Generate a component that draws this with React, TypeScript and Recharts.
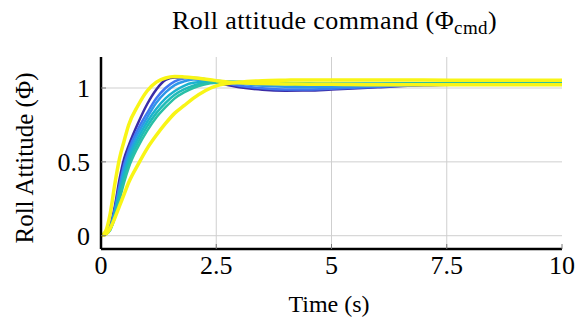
import { LineChart, Line, XAxis, YAxis, CartesianGrid } from 'recharts';

// time samples (s)
const time = [0, 0.1, 0.2, 0.3, 0.4, 0.5, 0.6, 0.8, 1.0, 1.2, 1.4, 1.6, 1.8, 2.0, 2.5, 3, 3.5, 4, 4.5, 5, 6, 7, 8, 9, 10];

// roll attitude responses
const fastYellow = [0, 0.03, 0.15, 0.35, 0.52, 0.64, 0.75, 0.88, 0.98, 1.04, 1.068, 1.078, 1.075, 1.07, 1.05, 1.035, 1.03, 1.028, 1.026, 1.025, 1.022, 1.022, 1.022, 1.022, 1.022];
const indigo = [0, 0.01, 0.07, 0.2, 0.38, 0.52, 0.61, 0.76, 0.89, 0.99, 1.055, 1.072, 1.072, 1.065, 1.035, 1.005, 0.988, 0.982, 0.983, 0.99, 1.005, 1.018, 1.025, 1.03, 1.032];
const blue = [0, 0.01, 0.06, 0.18, 0.34, 0.48, 0.58, 0.72, 0.83, 0.93, 1.0, 1.045, 1.065, 1.07, 1.045, 1.015, 0.998, 0.99, 0.99, 0.995, 1.008, 1.02, 1.026, 1.03, 1.032];
const skyBlue = [0, 0.01, 0.05, 0.16, 0.31, 0.45, 0.55, 0.69, 0.8, 0.9, 0.97, 1.02, 1.045, 1.058, 1.05, 1.03, 1.015, 1.008, 1.005, 1.007, 1.015, 1.024, 1.03, 1.033, 1.035];
const cyan = [0, 0.01, 0.05, 0.15, 0.29, 0.42, 0.52, 0.66, 0.77, 0.86, 0.93, 0.98, 1.015, 1.035, 1.048, 1.04, 1.03, 1.025, 1.022, 1.022, 1.025, 1.03, 1.033, 1.035, 1.036];
const teal = [0, 0.01, 0.04, 0.13, 0.26, 0.39, 0.49, 0.63, 0.74, 0.83, 0.9, 0.955, 0.99, 1.015, 1.04, 1.04, 1.035, 1.03, 1.028, 1.027, 1.028, 1.031, 1.034, 1.036, 1.037];
const green = [0, 0.01, 0.04, 0.12, 0.24, 0.36, 0.46, 0.6, 0.71, 0.8, 0.87, 0.93, 0.97, 1.0, 1.035, 1.04, 1.038, 1.034, 1.032, 1.03, 1.03, 1.032, 1.034, 1.036, 1.037];
const slowYellow = [0, 0.01, 0.05, 0.12, 0.2, 0.28, 0.36, 0.48, 0.59, 0.68, 0.76, 0.83, 0.88, 0.93, 1.015, 1.04, 1.05, 1.053, 1.055, 1.055, 1.055, 1.054, 1.053, 1.053, 1.052];

const xTicks = [0, 2.5, 5, 7.5, 10];
const yTicks = [0, 0.5, 1];

const data = time.map((t, i) => ({
  t,
  fastYellow: fastYellow[i],
  indigo: indigo[i],
  blue: blue[i],
  skyBlue: skyBlue[i],
  cyan: cyan[i],
  teal: teal[i],
  green: green[i],
  slowYellow: slowYellow[i],
}));

const series = [
  { key: 'indigo', color: '#3b2ca6', width: 2.5 },
  { key: 'blue', color: '#3f78f2', width: 2.5 },
  { key: 'skyBlue', color: '#2e97e8', width: 2.5 },
  { key: 'cyan', color: '#1ab2cf', width: 2.5 },
  { key: 'teal', color: '#1fbab8', width: 2.5 },
  { key: 'green', color: '#2ac0a6', width: 2.5 },
  { key: 'slowYellow', color: '#f8f516', width: 3.5 },
  { key: 'fastYellow', color: '#f8f516', width: 3.5 },
];

const FONT = "'Liberation Serif', 'Times New Roman', serif";
const border = { stroke: '#000', strokeWidth: 2.5 };
const tickMark = { stroke: '#777', strokeWidth: 1 };

const XTick = ({ x, y, payload }: any) => (
  <text x={x} y={y + 262 - 249 + 17} textAnchor="middle" fontSize={26} fontFamily={FONT} fill="#000">
    {payload.value}
  </text>
);

const YTick = ({ x, y, payload }: any) => (
  <text x={90} y={y + 9} textAnchor="end" fontSize={26} fontFamily={FONT} fill="#000">
    {payload.value}
  </text>
);

export default function App() {
  return (
    <div style={{ position: 'relative', width: 576, height: 321 }}>
      <style>{`body{margin:0}`}</style>
      <LineChart width={576} height={321} data={data} margin={{ top: 57, right: 14, bottom: 42, left: 0 }}>
        <CartesianGrid stroke="#cfcfcf" strokeWidth={1} verticalValues={[2.5, 5, 7.5]} horizontalValues={yTicks} />
        <XAxis
          xAxisId={0}
          dataKey="t"
          type="number"
          domain={[0, 10]}
          ticks={xTicks}
          height={30}
          tick={<XTick />}
          tickSize={-5}
          tickMargin={0}
          tickLine={tickMark}
          axisLine={border}
          interval={0}
        />
        <XAxis
          xAxisId="top"
          orientation="top"
          dataKey="t"
          type="number"
          domain={[0, 10]}
          ticks={xTicks}
          height={0}
          tickSize={-5}
          tickFormatter={() => ''}
          tickLine={tickMark}
          axisLine={border}
        />
        <YAxis
          yAxisId={0}
          type="number"
          domain={[-0.09, 1.21]}
          ticks={yTicks}
          width={101}
          tick={<YTick />}
          tickSize={-5}
          tickMargin={0}
          tickLine={tickMark}
          axisLine={border}
          interval={0}
        />
        <YAxis
          yAxisId="right"
          orientation="right"
          type="number"
          domain={[-0.09, 1.21]}
          ticks={yTicks}
          width={0}
          tickSize={-5}
          tickFormatter={() => ''}
          tickLine={tickMark}
          axisLine={border}
        />
        {series.map((s) => (
          <Line
            key={s.key}
            xAxisId={0}
            yAxisId={0}
            type="monotone"
            dataKey={s.key}
            stroke={s.color}
            strokeWidth={s.width}
            dot={false}
            isAnimationActive={false}
          />
        ))}
      </LineChart>
      <svg
        width={576}
        height={321}
        style={{ position: 'absolute', left: 0, top: 0, pointerEvents: 'none' }}
        fontFamily={FONT}
      >
        <text x={172} y={29} fontSize={26} letterSpacing={0.4} fill="#000">
          Roll attitude command (Φ
          <tspan fontSize={19} dy={5}>cmd</tspan>
          <tspan dy={-5}>)</tspan>
        </text>
        <text x={329} y={312} fontSize={24} fill="#000" textAnchor="middle">
          Time (s)
        </text>
        <text
          x={0}
          y={0}
          fontSize={25}
          fill="#000"
          textAnchor="middle"
          transform="translate(33,158) rotate(-90)"
        >
          Roll Attitude (Φ)
        </text>
      </svg>
    </div>
  );
}
